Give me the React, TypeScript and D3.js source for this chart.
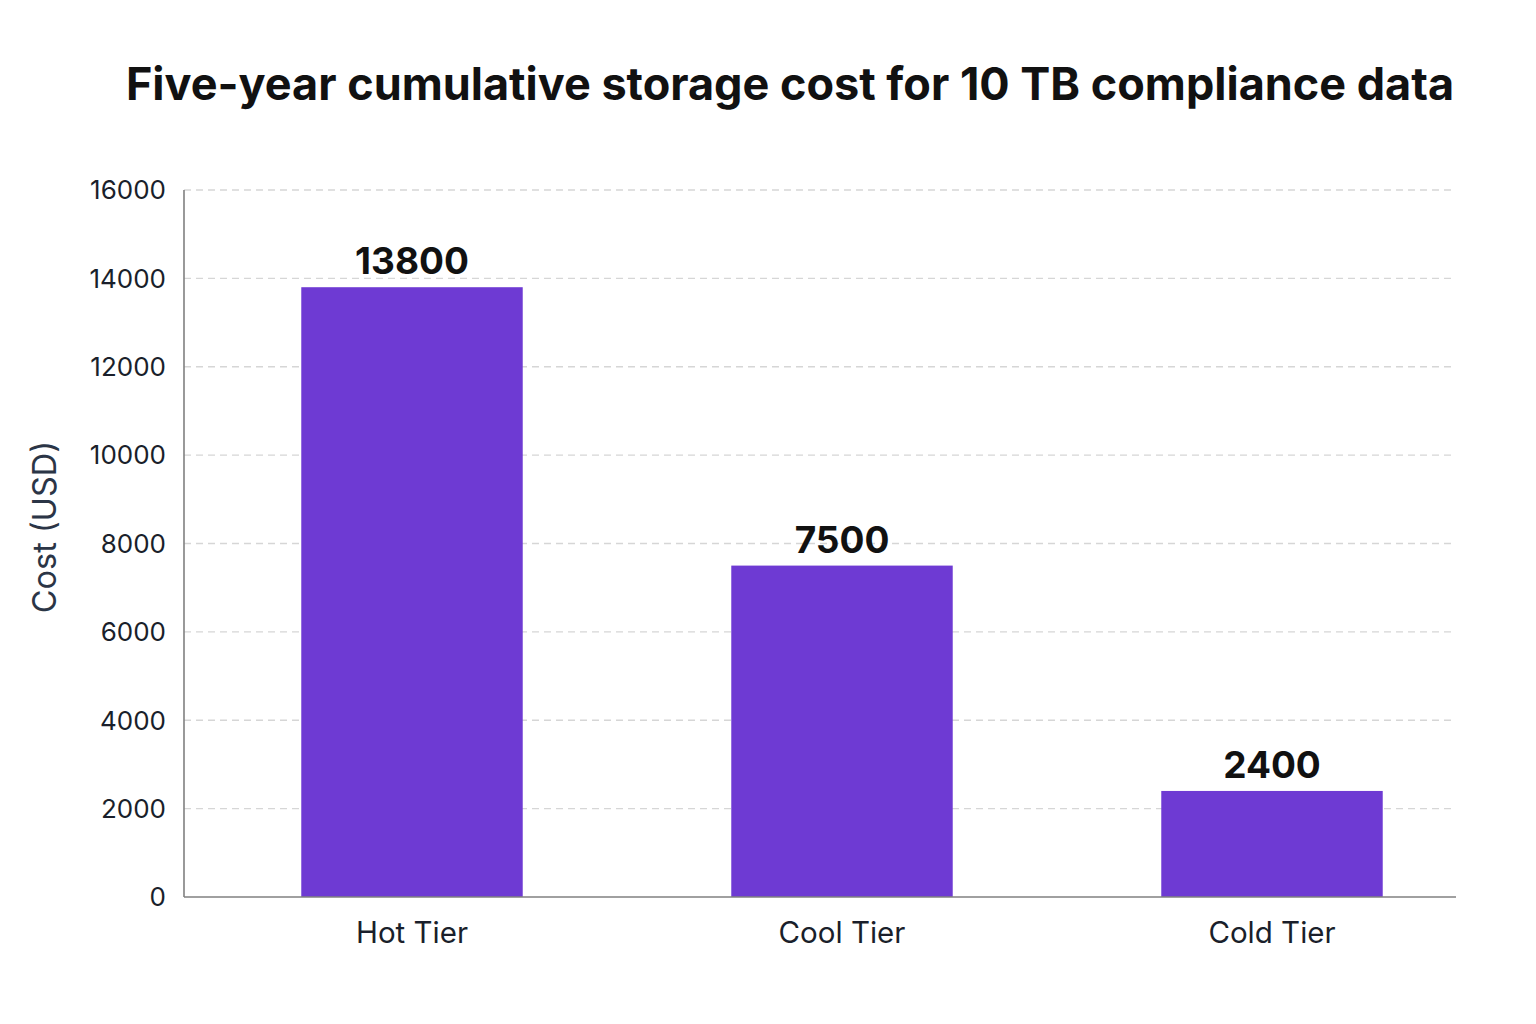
import React from "react";
import { scaleBand, scaleLinear } from "d3";

const tiers = ["Hot Tier", "Cool Tier", "Cold Tier"];
const costs = [13800, 7500, 2400];
const yTicks = [0, 2000, 4000, 6000, 8000, 10000, 12000, 14000, 16000];

const W = 1536;
const H = 1024;
const plot = { left: 184, right: 1456, top: 190, bottom: 897 };

export default function App() {
  const x = scaleBand<string>()
    .domain(tiers)
    .range([197, 1487])
    .paddingInner(0.485)
    .paddingOuter(0.2425);

  const y = scaleLinear().domain([0, 16000]).range([plot.bottom, plot.top]);

  const font = "Inter, 'Noto Sans', sans-serif";

  return (
    <svg
      width={W}
      height={H}
      style={{ position: "absolute", left: 0, top: 0, background: "#fff" }}
      fontFamily={font}
    >
      <text
        x={790}
        y={100}
        textAnchor="middle"
        fontSize={45}
        fontWeight={700}
        fill="#111"
      >
        Five-year cumulative storage cost for 10 TB compliance data
      </text>

      {/* grid */}
      {yTicks
        .filter((t) => t > 0)
        .map((t) => (
          <line
            key={t}
            x1={plot.left}
            x2={plot.right}
            y1={y(t)}
            y2={y(t)}
            stroke="#d6d6d6"
            strokeWidth={1.3}
            strokeDasharray="7,5"
          />
        ))}

      {/* bars */}
      {tiers.map((d, i) => (
        <g key={d}>
          <rect
            x={x(d)}
            y={y(costs[i])}
            width={x.bandwidth()}
            height={plot.bottom - y(costs[i])}
            fill="#6e3ad3"
          />
          <text
            x={(x(d) ?? 0) + x.bandwidth() / 2}
            y={y(costs[i]) - 13}
            textAnchor="middle"
            fontSize={37}
            fontWeight={700}
            fill="#111"
          >
            {costs[i]}
          </text>
          <text
            x={(x(d) ?? 0) + x.bandwidth() / 2}
            y={plot.bottom + 46}
            textAnchor="middle"
            fontSize={29.5}
            fill="#1a1f2b"
          >
            {d}
          </text>
        </g>
      ))}

      {/* axes */}
      <line
        x1={plot.left}
        x2={plot.left}
        y1={plot.top}
        y2={plot.bottom}
        stroke="#808080"
        strokeWidth={1.6}
      />
      <line
        x1={plot.left}
        x2={plot.right}
        y1={plot.bottom}
        y2={plot.bottom}
        stroke="#808080"
        strokeWidth={1.6}
      />
      {yTicks.map((t) => (
        <text
          key={t}
          x={plot.left - 18}
          y={y(t)}
          dy="0.36em"
          textAnchor="end"
          fontSize={26}
          fill="#1a1f2b"
        >
          {t}
        </text>
      ))}
      <text
        transform={`translate(56,527) rotate(-90)`}
        textAnchor="middle"
        fontSize={32.5}
        fill="#2b3546"
      >
        Cost (USD)
      </text>
    </svg>
  );
}
